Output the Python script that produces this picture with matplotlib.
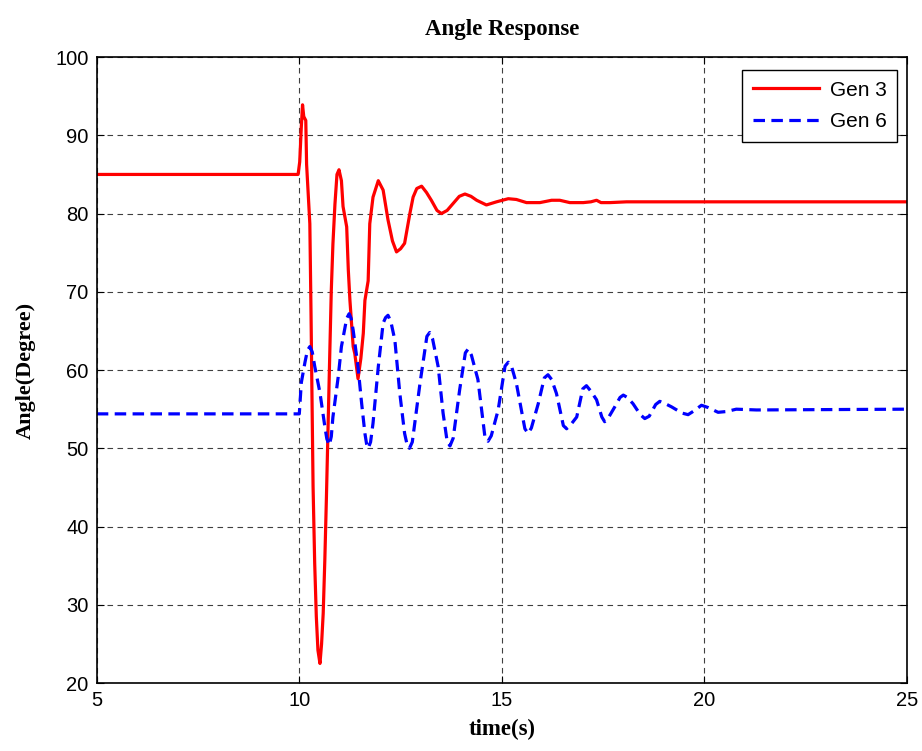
import matplotlib
matplotlib.use('Agg')
import matplotlib.pyplot as plt

# Gen 3 rotor angle (deg)
t_gen3 = [5, 9.97, 10.01, 10.05, 10.08, 10.11, 10.16, 10.18, 10.26, 10.29, 10.31,
          10.34, 10.38, 10.42, 10.46, 10.51, 10.55, 10.59, 10.63, 10.67, 10.71,
          10.75, 10.79, 10.83, 10.88, 10.93, 10.98, 11.04, 11.08, 11.17, 11.21,
          11.25, 11.33, 11.37, 11.45, 11.52, 11.58, 11.62, 11.70, 11.74, 11.82,
          11.95, 12.07, 12.19, 12.30, 12.40, 12.50, 12.60, 12.73, 12.81, 12.90,
          13.02, 13.14, 13.26, 13.40, 13.51, 13.65, 13.80, 13.95, 14.09, 14.24,
          14.38, 14.62, 14.87, 15.16, 15.36, 15.61, 15.94, 16.23, 16.43, 16.68,
          17.01, 17.20, 17.34, 17.45, 17.67, 18.08, 25]
a_gen3 = [85.0, 85.0, 86.6, 91.1, 93.9, 92.4, 91.9, 86.3, 78.7, 67.0, 58.0,
          45.1, 35.3, 28.5, 24.2, 22.5, 25.0, 28.9, 35.7, 43.8, 52.7,
          61.6, 70.2, 76.1, 81.2, 85.0, 85.6, 84.2, 80.9, 78.3, 72.8,
          68.9, 63.0, 62.1, 58.9, 61.5, 64.7, 68.9, 71.4, 78.7, 82.1,
          84.2, 83.0, 79.2, 76.5, 75.1, 75.5, 76.2, 80.0, 82.1, 83.2,
          83.5, 82.7, 81.7, 80.4, 80.0, 80.4, 81.3, 82.2, 82.5, 82.2,
          81.7, 81.1, 81.5, 81.9, 81.8, 81.4, 81.4, 81.7, 81.7, 81.4,
          81.4, 81.5, 81.7, 81.4, 81.4, 81.5, 81.5]

# Gen 6 rotor angle (deg)
t_gen6 = [5, 10.0, 10.05, 10.14, 10.20, 10.26, 10.32, 10.38, 10.51, 10.63, 10.68,
          10.74, 10.79, 10.83, 10.96, 11.04, 11.17, 11.23, 11.28, 11.33, 11.45,
          11.54, 11.62, 11.66, 11.70, 11.76, 11.82, 11.95, 12.07, 12.13, 12.19,
          12.26, 12.36, 12.48, 12.60, 12.66, 12.72, 12.79, 12.98, 13.15, 13.22,
          13.29, 13.43, 13.55, 13.65, 13.72, 13.80, 13.96, 14.10, 14.17, 14.25,
          14.41, 14.58, 14.66, 14.74, 14.91, 15.08, 15.16, 15.25, 15.36, 15.57,
          15.65, 15.73, 15.90, 16.05, 16.14, 16.23, 16.35, 16.52, 16.60, 16.70,
          16.85, 17.00, 17.09, 17.20, 17.34, 17.47, 17.54, 17.62, 17.79, 17.92,
          18.00, 18.10, 18.24, 18.42, 18.53, 18.64, 18.80, 18.90, 19.00, 19.19,
          19.45, 19.60, 19.75, 19.93, 20.10, 20.34, 20.55, 20.79, 21.29, 25]
a_gen6 = [54.4, 54.4, 58.4, 61.0, 62.5, 63.0, 62.3, 60.5, 57.1, 52.8, 51.2,
          50.4, 51.5, 54.0, 59.1, 63.0, 66.6, 67.2, 66.6, 65.1, 60.4,
          55.7, 51.9, 50.6, 50.0, 50.8, 53.2, 60.4, 66.0, 66.7, 67.0,
          66.2, 63.8, 57.1, 51.9, 50.5, 50.0, 50.8, 58.3, 64.3, 64.8,
          64.0, 60.4, 54.5, 50.9, 50.3, 51.3, 57.5, 62.2, 62.7, 61.9,
          58.8, 51.6, 50.9, 51.6, 54.9, 60.5, 61.0, 60.3, 58.3, 52.5,
          51.9, 52.6, 55.7, 59.0, 59.4, 58.8, 57.0, 52.9, 52.5, 53.0,
          54.0, 57.6, 58.0, 57.3, 56.2, 54.0, 53.4, 53.8, 55.3, 56.5,
          56.8, 56.5, 55.7, 54.3, 53.8, 54.1, 55.6, 56.0, 55.8, 55.3,
          54.5, 54.3, 54.8, 55.5, 55.2, 54.6, 54.7, 55.0, 54.9, 55.0]

x_ticks = [5, 10, 15, 20, 25]
y_ticks = [20, 30, 40, 50, 60, 70, 80, 90, 100]

fig = plt.figure(figsize=(9.22, 7.51), dpi=100)
ax = fig.add_axes([0.105, 0.0905, 0.8785, 0.8335])

ax.plot(t_gen3, a_gen3, color='#ff0000', lw=2.3, label='Gen 3')
ax.plot(t_gen6, a_gen6, color='#0000ff', lw=2.3, dashes=(3.6, 2.0), label='Gen 6')

ax.set_xlim(5, 25)
ax.set_ylim(20, 100)
ax.set_xticks(x_ticks)
ax.set_yticks(y_ticks)
ax.grid(True, color='0.25', linestyle=(0, (5, 4)), linewidth=0.8)
ax.tick_params(direction='in', top=True, right=True, length=5, labelsize=14.5, pad=6)
for lab in ax.get_xticklabels() + ax.get_yticklabels():
    lab.set_family('Liberation Sans')
for s in ax.spines.values():
    s.set_linewidth(1.2)

ax.set_title('Angle Response', family='Liberation Serif', fontweight='bold', fontsize=16.5, pad=16)
ax.set_xlabel('time(s)', family='Liberation Serif', fontweight='bold', fontsize=16.5, labelpad=6)
ax.set_ylabel('Angle(Degree)', family='Liberation Serif', fontweight='bold', fontsize=16, labelpad=14)

leg = ax.legend(loc='upper right', bbox_to_anchor=(0.988, 0.979), borderaxespad=0,
                fancybox=False, edgecolor='black', framealpha=1,
                prop={'family': 'Liberation Sans', 'size': 15},
                handlelength=3.2, handletextpad=0.5, borderpad=0.5, labelspacing=0.6)
leg.get_frame().set_linewidth(1.0)

fig.savefig('out.png', dpi=100)
